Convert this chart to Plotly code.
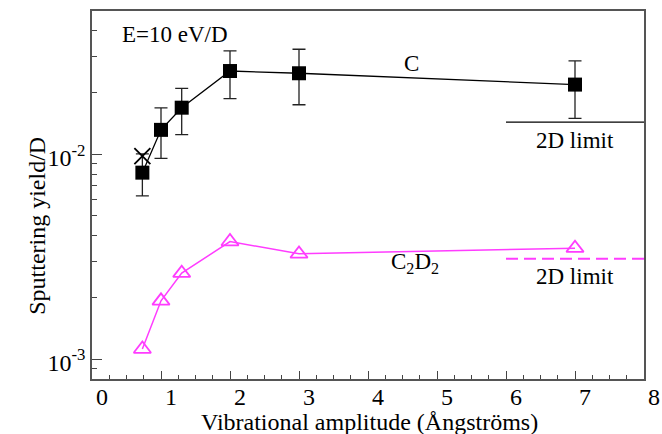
import plotly.graph_objects as go

# Data
amp_c = [0.73, 1.0, 1.3, 2.0, 3.0, 7.0]
yield_c = [0.00813, 0.01315, 0.01687, 0.02547, 0.02484, 0.02187]
err_c_plus = [0.0019, 0.0037, 0.0041, 0.0065, 0.0077, 0.0067]
err_c_minus = [0.00187, 0.0036, 0.0044, 0.0068, 0.0074, 0.0069]

amp_x = [0.73]
yield_x = [0.0098]

amp_c2d2 = [0.73, 1.0, 1.3, 2.0, 3.0, 7.0]
yield_c2d2 = [0.00112, 0.001925, 0.002628, 0.003748, 0.003264, 0.00348]

limit_x = [6.0, 8.0]
limit_c = 0.01433
limit_c2d2 = 0.00309

x_ticks = [0, 1, 2, 3, 4, 5, 6, 7, 8]
y_ticks = [0.001, 0.01]
y_ticktext = ["10<sup>-3</sup>", "10<sup>-2</sup>"]
y_minor = [0.0008, 0.0009] + [k * 0.001 for k in range(2, 10)] + [k * 0.01 for k in range(2, 6)]

FONT = "Liberation Serif"
MAG = "#ff3cff"

fig = go.Figure()

fig.add_trace(go.Scatter(
    x=limit_x, y=[limit_c, limit_c], mode="lines",
    line=dict(color="black", width=1.3), showlegend=False, hoverinfo="skip"))
fig.add_trace(go.Scatter(
    x=limit_x, y=[limit_c2d2, limit_c2d2], mode="lines",
    line=dict(color=MAG, width=2, dash="12px,6px"), showlegend=False, hoverinfo="skip"))

fig.add_trace(go.Scatter(
    x=amp_c, y=yield_c, mode="lines+markers",
    line=dict(color="black", width=1.3),
    marker=dict(symbol="square", size=14, color="black"),
    error_y=dict(type="data", symmetric=False, array=err_c_plus, arrayminus=err_c_minus,
                 color="#222", thickness=1.3, width=6.5),
    showlegend=False))

fig.add_trace(go.Scatter(
    x=amp_x, y=yield_x, mode="markers",
    marker=dict(symbol="x-thin", size=16, line=dict(color="black", width=1.8)),
    showlegend=False))

fig.add_trace(go.Scatter(
    x=amp_c2d2, y=yield_c2d2, mode="lines+markers",
    line=dict(color=MAG, width=1.5),
    marker=dict(symbol="triangle-up-open", size=15, color=MAG, line=dict(color=MAG, width=1.8)),
    showlegend=False))

annots = [
    dict(x=1.21, y=-1.418, text="E=10 eV/D"),
    dict(x=4.63, y=-1.556, text="C"),
    dict(x=7.0, y=-1.934, text="2D limit"),
    dict(x=4.68, y=-2.532, text="C<sub>2</sub>D<sub>2</sub>"),
    dict(x=7.0, y=-2.597, text="2D limit"),
]
for a in annots:
    fig.add_annotation(x=a["x"], y=a["y"], text=a["text"], showarrow=False,
                       xref="x", yref="y", font=dict(family=FONT, size=23, color="black"))

# axis titles as annotations for exact placement
fig.add_annotation(x=-0.127, y=0.416, xref="paper", yref="paper", text="Sputtering yield/D",
                   textangle=-90, showarrow=False, font=dict(family=FONT, size=24, color="black"))
fig.add_annotation(x=0.502, y=-0.118, xref="paper", yref="paper", yanchor="middle",
                   text="Vibrational amplitude (Ångströms)",
                   showarrow=False, font=dict(family=FONT, size=24, color="black"))

fig.update_layout(
    width=662, height=434,
    margin=dict(l=92, r=18, t=11, b=55),
    paper_bgcolor="white", plot_bgcolor="white",
    font=dict(family=FONT, size=23, color="black"),
)
fig.update_xaxes(
    range=[0, 8], tickvals=x_ticks, ticks="inside", ticklen=8, tickwidth=1.2, tickcolor="#444",
    minor=dict(dtick=0.25, ticks="inside", ticklen=4, tickwidth=1, tickcolor="#444"),
    showline=True, linecolor="#555", linewidth=1.5, mirror=True, showgrid=False, zeroline=False,
    ticklabelshift=10, ticklabelstandoff=-5, automargin=False,
    tickfont=dict(family=FONT, size=24),
)
fig.update_yaxes(
    type="log", range=[-3.097, -1.301], tickvals=y_ticks, ticktext=y_ticktext,
    ticks="inside", ticklen=10, tickwidth=1.2, tickcolor="#444",
    minor=dict(tickvals=y_minor, ticks="inside", ticklen=5, tickwidth=1, tickcolor="#444"),
    showline=True, linecolor="#555", linewidth=1.5, mirror=True, showgrid=False, zeroline=False,
    automargin=False, ticklabelshift=3,
    tickfont=dict(family=FONT, size=24),
)

fig.write_html("out.html")
